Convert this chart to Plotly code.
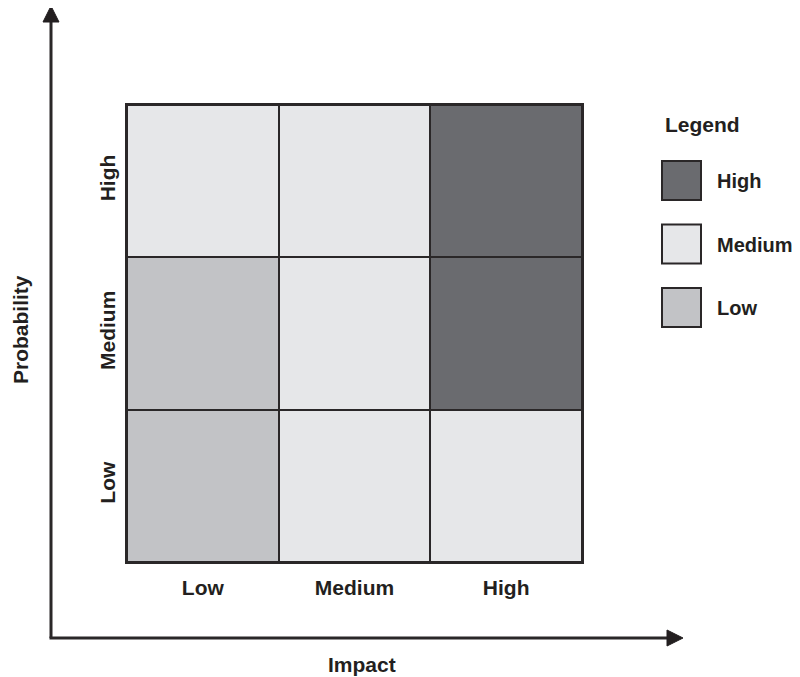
import plotly.graph_objects as go

# ---- data ----
impact_levels = ["Low", "Medium", "High"]          # x categories
probability_levels = ["Low", "Medium", "High"]     # y categories (bottom -> top)
# risk level per cell: 0 = Low, 1 = Medium, 2 = High ; rows follow probability_levels
risk_low_prob = [0, 1, 1]
risk_med_prob = [0, 1, 2]
risk_high_prob = [1, 1, 2]
legend_labels = ["High", "Medium", "Low"]
legend_levels = [2, 1, 0]
level_colors = {0: "#C2C3C6", 1: "#E6E7E9", 2: "#6A6B6F"}
x_title = "Impact"
y_title = "Probability"
legend_title = "Legend"

W, H = 800, 677
OFF = 8  # page body margin offset
DARK = "#2a2728"
INK = "#231F20"
FONT = "Liberation Sans, Arial, Helvetica, sans-serif"


def px(x):
    return (x - OFF) / W


def py(y):
    return 1 - (y - OFF) / H


fig = go.Figure()
fig.add_trace(go.Heatmap(
    x=impact_levels,
    y=probability_levels,
    z=[risk_low_prob, risk_med_prob, risk_high_prob],
    zmin=0, zmax=2,
    colorscale=[[0, level_colors[0]], [0.5, level_colors[1]], [1, level_colors[2]]],
    showscale=False,
    xgap=2, ygap=2,
    hoverinfo="skip",
))

axis_common = dict(
    showgrid=False, zeroline=False, showline=True, mirror=True,
    linewidth=2, linecolor=DARK, ticks="",
    tickfont=dict(family=FONT, size=21, color=INK, weight="bold"),
    fixedrange=True,
)
fig.update_xaxes(domain=[px(127), px(582)], ticklabelstandoff=6, **axis_common)
fig.update_yaxes(domain=[py(562), py(105)], tickangle=-90, ticklabelstandoff=2, **axis_common)

shapes = []
# axis arrows
shapes.append(dict(type="line", xref="paper", yref="paper",
                   x0=px(51), y0=py(638), x1=px(51), y1=py(20),
                   line=dict(color=DARK, width=3)))
shapes.append(dict(type="path", xref="paper", yref="paper",
                   path=f"M {px(43)} {py(22)} L {px(59)} {py(22)} L {px(51)} {py(6)} Z",
                   fillcolor=INK, line=dict(color=INK, width=1)))
shapes.append(dict(type="line", xref="paper", yref="paper",
                   x0=px(49.5), y0=py(638), x1=px(669), y1=py(638),
                   line=dict(color=DARK, width=3)))
shapes.append(dict(type="path", xref="paper", yref="paper",
                   path=f"M {px(667)} {py(630)} L {px(667)} {py(646)} L {px(683)} {py(638)} Z",
                   fillcolor=INK, line=dict(color=INK, width=1)))

annotations = []
# legend boxes
for i, (lab, lev) in enumerate(zip(legend_labels, legend_levels)):
    top = 161 + i * 63.5
    shapes.append(dict(type="rect", xref="paper", yref="paper",
                       x0=px(662), x1=px(701), y0=py(top + 39), y1=py(top),
                       fillcolor=level_colors[lev], line=dict(color=DARK, width=2)))
    annotations.append(dict(text=lab, xref="paper", yref="paper",
                            x=px(715), y=py(top + 20), xanchor="left", yanchor="middle",
                            showarrow=False,
                            font=dict(family=FONT, size=20, color=INK, weight="bold")))

annotations.append(dict(text=legend_title, xref="paper", yref="paper",
                        x=px(663), y=py(124), xanchor="left", yanchor="middle",
                        showarrow=False,
                        font=dict(family=FONT, size=21, color=INK, weight="bold")))
annotations.append(dict(text=x_title, xref="paper", yref="paper",
                        x=px(362), y=py(664), xanchor="center", yanchor="middle",
                        showarrow=False,
                        font=dict(family=FONT, size=21, color=INK, weight="bold")))
annotations.append(dict(text=y_title, xref="paper", yref="paper",
                        x=px(20), y=py(330), xanchor="center", yanchor="middle",
                        textangle=-90, showarrow=False,
                        font=dict(family=FONT, size=21, color=INK, weight="bold")))

fig.update_layout(
    width=W, height=H,
    margin=dict(l=0, r=0, t=0, b=0),
    paper_bgcolor="white",
    plot_bgcolor=DARK,
    shapes=shapes,
    annotations=annotations,
    showlegend=False,
)

fig.write_html("out.html")
